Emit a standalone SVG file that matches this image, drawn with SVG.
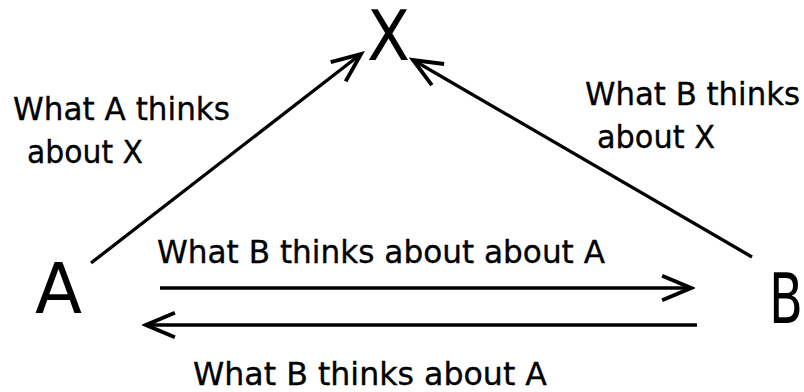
<svg xmlns="http://www.w3.org/2000/svg" width="804" height="392" viewBox="0 0 804 392">
<style>
.node{font-family:"DejaVu Sans","Liberation Sans",sans-serif;font-size:70px;fill:#000}
.lbl{font-family:"DejaVu Sans","Liberation Sans",sans-serif;font-size:32px;fill:#000;stroke:#000;stroke-width:0.35}
.edge{stroke:#000;stroke-width:3.3;fill:none;marker-end:url(#arr)}
</style>
<defs>
<marker id="arr" markerUnits="userSpaceOnUse" markerWidth="40" markerHeight="40" viewBox="-32 -16 36 32" refX="0" refY="0" orient="auto">
<path d="M-26,-11 L0,0 L-26,11" stroke="#000" stroke-width="3.5" fill="none" stroke-linejoin="miter"/>
</marker>
</defs>
<rect width="804" height="392" fill="#fff"/>
<g id="connectors">
<line class="edge" x1="91" y1="263" x2="361" y2="54"/>
<line class="edge" x1="752" y1="257" x2="413" y2="60"/>
<line class="edge" x1="160" y1="288" x2="691" y2="288"/>
<line class="edge" x1="697" y1="325" x2="146" y2="325"/>
</g>
<g id="node-X"><text class="node" x="367" y="60" textLength="43" lengthAdjust="spacingAndGlyphs">X</text></g>
<g id="node-A"><text class="node" x="35" y="313" textLength="47" lengthAdjust="spacingAndGlyphs">A</text></g>
<g id="node-B"><text class="node" x="769" y="323" textLength="34" lengthAdjust="spacingAndGlyphs">B</text></g>
<g id="labels">
<text class="lbl" x="13" y="120" textLength="217" lengthAdjust="spacingAndGlyphs">What A thinks</text>
<text class="lbl" x="27" y="163" textLength="116" lengthAdjust="spacingAndGlyphs">about X</text>
<text class="lbl" x="585" y="105" textLength="215" lengthAdjust="spacingAndGlyphs">What B thinks</text>
<text class="lbl" x="597" y="148" textLength="118" lengthAdjust="spacingAndGlyphs">about X</text>
<text class="lbl" x="157" y="263" textLength="448" lengthAdjust="spacingAndGlyphs">What B thinks about about A</text>
<text class="lbl" x="193" y="385" textLength="354" lengthAdjust="spacingAndGlyphs">What B thinks about A</text>
</g>
</svg>
